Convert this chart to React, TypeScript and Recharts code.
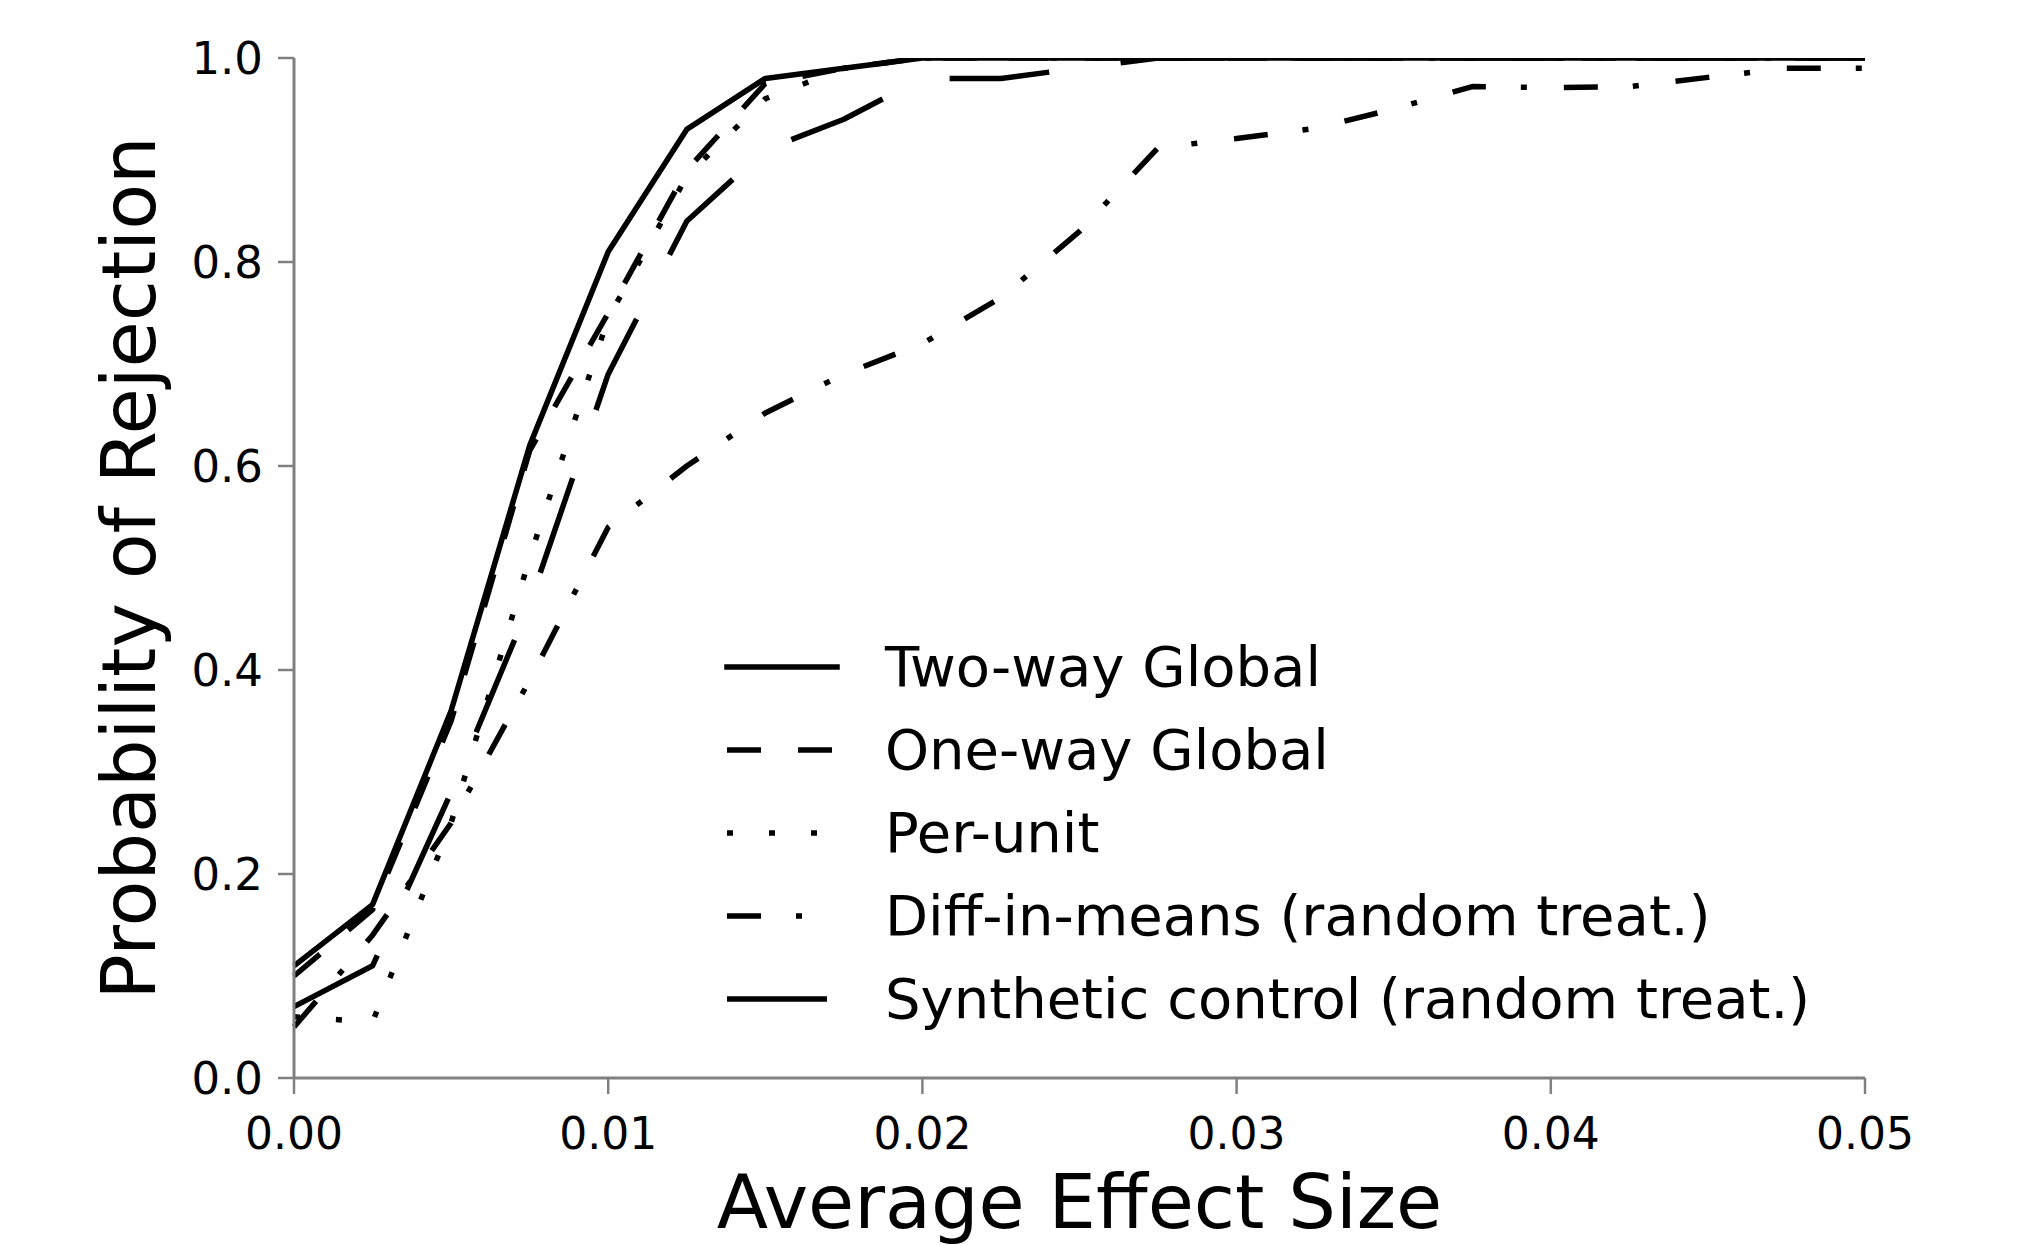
import { Legend, Line, LineChart, XAxis, YAxis } from "recharts";

// effect sizes on the x axis
const effectSizes = [
  0, 0.0025, 0.005, 0.0075, 0.01, 0.0125, 0.015, 0.0175, 0.02, 0.0225, 0.025,
  0.0275, 0.03, 0.0325, 0.035, 0.0375, 0.04, 0.0425, 0.045, 0.0475, 0.05,
];

// rejection probabilities
const twoWayGlobal = [0.11, 0.17, 0.36, 0.62, 0.81, 0.93, 0.98, 0.99, 1, 1, 1, 1, 1, 1, 1, 1, 1, 1, 1, 1, 1];
const oneWayGlobal = [0.1, 0.165, 0.35, 0.615, 0.75, 0.89, 0.975, 0.99, 1, 1, 1, 1, 1, 1, 1, 1, 1, 1, 1, 1, 1];
const perUnit = [0.06, 0.055, 0.25, 0.51, 0.745, 0.884, 0.96, 0.99, 1, 1, 1, 1, 1, 1, 1, 1, 1, 1, 1, 1, 1];
const diffInMeans = [
  0.05, 0.14, 0.25, 0.39, 0.54, 0.6, 0.652, 0.69, 0.72, 0.765, 0.83, 0.912, 0.921,
  0.931, 0.95, 0.972, 0.971, 0.972, 0.981, 0.99, 0.99,
];
const syntheticControl = [0.07, 0.11, 0.28, 0.465, 0.69, 0.84, 0.91, 0.94, 0.98, 0.98, 0.99, 1, 1, 1, 1, 1, 1, 1, 1, 1, 1];

const xTicks = [0, 0.01, 0.02, 0.03, 0.04, 0.05];
const yTicks = [0, 0.2, 0.4, 0.6, 0.8, 1.0];

const seriesNames = [
  "Two-way Global",
  "One-way Global",
  "Per-unit",
  "Diff-in-means (random treat.)",
  "Synthetic control (random treat.)",
];
const seriesValues = [twoWayGlobal, oneWayGlobal, perUnit, diffInMeans, syntheticControl];

// line styles, same order as the names
const dashes: (string | undefined)[] = [undefined, "34 37", "6 36", "34 35 6 37", "100 72"];

const FONT = "'DejaVu Sans', sans-serif";
const LINE_W = 5.5;
const GREY = "#808080";

const rows = effectSizes.map((x, i) => {
  const row: Record<string, number> = { x };
  seriesNames.forEach((name, s) => {
    row[name] = seriesValues[s][i];
  });
  return row;
});

function renderLegend() {
  return (
    <div style={{ display: "flex", flexDirection: "column", fontFamily: FONT }}>
      {seriesNames.map((name, i) => (
        <div key={name} style={{ display: "flex", alignItems: "center", height: 83 }}>
          <svg width={116} height={12} style={{ display: "block" }}>
            <line
              x1={3}
              y1={6}
              x2={113}
              y2={6}
              stroke="#000"
              strokeWidth={LINE_W}
              strokeDasharray={dashes[i]}
              strokeLinecap={dashes[i] ? "butt" : "square"}
            />
          </svg>
          <span style={{ marginLeft: 45, fontSize: 56, lineHeight: "83px", color: "#000", whiteSpace: "nowrap" }}>
            {name}
          </span>
        </div>
      ))}
    </div>
  );
}

function xLabel(props: any) {
  const vb = props.viewBox ?? {};
  const cx = (vb.x ?? 294) + (vb.width ?? 1571) / 2;
  return (
    <text x={cx} y={1228} textAnchor="middle" fontSize={75} fill="#000" fontFamily={FONT}>
      Average Effect Size
    </text>
  );
}

function yLabel(props: any) {
  const vb = props.viewBox ?? {};
  const cy = (vb.y ?? 58) + (vb.height ?? 1020) / 2;
  const bx = 155;
  return (
    <text x={bx} y={cy} transform={`rotate(-90 ${bx} ${cy})`} textAnchor="middle" fontSize={75} fill="#000" fontFamily={FONT}>
      Probability of Rejection
    </text>
  );
}

export default function App() {
  return (
    <div style={{ position: "absolute", left: 0, top: 0, width: 2031, height: 1245, background: "#fff", fontFamily: FONT }}>
      <LineChart width={2031} height={1245} data={rows} margin={{ top: 58, right: 166, bottom: 0, left: 0 }}>
        <XAxis
          dataKey="x"
          type="number"
          domain={[0, 0.05]}
          ticks={xTicks}
          interval={0}
          tickFormatter={(v: number) => v.toFixed(2)}
          height={167}
          tickSize={16}
          tickMargin={24}
          axisLine={{ stroke: GREY, strokeWidth: 3 }}
          tickLine={{ stroke: GREY, strokeWidth: 2.5 }}
          tick={{ fontSize: 44, fill: "#000", fontFamily: FONT }}
          label={xLabel}
        />
        <YAxis
          type="number"
          domain={[0, 1]}
          allowDataOverflow
          ticks={yTicks}
          interval={0}
          tickFormatter={(v: number) => v.toFixed(1)}
          width={294}
          tickSize={16}
          tickMargin={15}
          axisLine={{ stroke: GREY, strokeWidth: 3 }}
          tickLine={{ stroke: GREY, strokeWidth: 2.5 }}
          tick={{ fontSize: 45, fill: "#000", fontFamily: FONT }}
          label={yLabel}
        />
        {seriesNames.map((name, i) => (
          <Line
            key={name}
            type="linear"
            dataKey={name}
            stroke="#000"
            strokeWidth={LINE_W}
            strokeDasharray={dashes[i]}
            strokeLinecap="butt"
            strokeLinejoin="round"
            dot={false}
            activeDot={false}
            isAnimationActive={false}
          />
        ))}
        <Legend
          layout="vertical"
          align="center"
          verticalAlign="middle"
          content={renderLegend}
          wrapperStyle={{ position: "absolute", left: 724, top: 625, width: "auto", height: "auto" }}
        />
      </LineChart>
    </div>
  );
}
